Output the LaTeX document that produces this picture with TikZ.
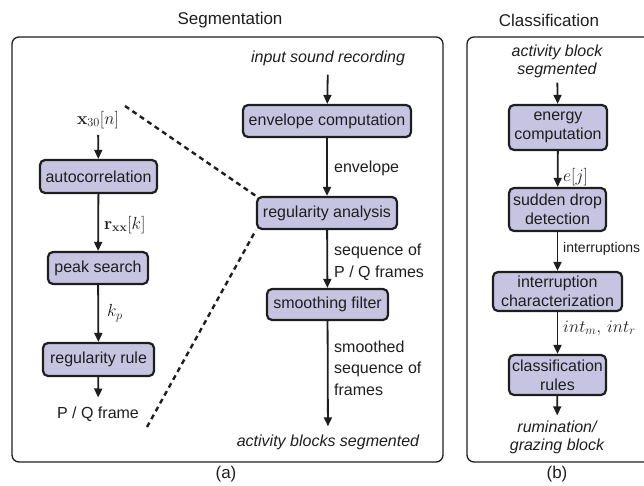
\documentclass[tikz,border=0pt]{standalone}
\usepackage{fix-cm}
\usepackage[no-math]{fontspec}
\setmainfont{Liberation Sans}
\usetikzlibrary{arrows.meta}
\definecolor{boxfill}{RGB}{199,196,226}
\definecolor{ink}{RGB}{30,30,30}

\begin{document}
\begin{tikzpicture}[x=1pt,y=-1pt,
  every node/.style={font=\fontsize{16}{19}\selectfont, text=ink},
  block/.style={draw=ink, line width=2.2pt, fill=boxfill, rounded corners=5pt,
                align=center, inner sep=0pt},
  arr/.style={draw=ink, line width=1.8pt, -{Triangle[length=9pt,width=8pt]}},
  lbl/.style={anchor=west, align=left, inner sep=0pt,
              font=\fontsize{16}{21.5}\selectfont},
  mlbl/.style={lbl, font=\fontsize{17.5}{21}\selectfont},
  note/.style={align=center, inner sep=0pt, font=\fontsize{16}{18}\selectfont\itshape},
  panel/.style={draw=ink, line width=1.3pt, rounded corners=7pt},
  link/.style={draw=ink, line width=2.4pt, dash pattern=on 5pt off 4pt},
  title/.style={font=\fontsize{17}{20}\selectfont}]

\useasboundingbox (0,0) rectangle (644,486);

% panel frames and captions (the classification frame runs past the right edge)
\draw[panel] (12,37) rectangle (443,462);
\begin{scope}
  \clip (0,0) rectangle (644,486);
  \draw[panel] (467,37) rectangle (655,462);
\end{scope}
\node[title] (segT) at (230,20) {Segmentation};
\node[title] (clsT) at (549,20) {Classification};
\node[title] (capA) at (226,474) {(a)};
\node[title] (capB) at (557,474) {(b)};

% segmentation: main chain
\node[note] (input) at (328,58) {input sound recording};
\node[block, minimum width=168pt, minimum height=32pt] (env) at (327,121) {envelope computation};
\node[block, minimum width=140pt, minimum height=32pt] (reg) at (327,213) {regularity analysis};
\node[block, minimum width=121pt, minimum height=31pt] (smooth) at (327.5,304.5) {smoothing filter};
\node[note] (blocks) at (328,442) {activity blocks segmented};

\draw[arr, shorten <=9pt] (input) -- (env);
\draw[arr] (env) -- (reg);
\draw[arr] (reg) -- (smooth);
\draw[arr, shorten >=8pt] (smooth) -- (blocks);

\node[lbl] (lenv) at (334,168) {envelope};
\node[lbl] (lseq) at (334,262) {sequence of\\P / Q frames};
\node[lbl] (lsm) at (334,368) {smoothed\\sequence of\\frames};

% segmentation: detail of the regularity analysis
\node[inner sep=0pt, font=\fontsize{17.5}{21}\selectfont] (xin) at (98,120) {$\mathbf{x}_{30}[n]$};
\node[block, minimum width=117pt, minimum height=33pt] (auto) at (98.5,176.5) {autocorrelation};
\node[block, minimum width=100pt, minimum height=32pt] (peak) at (98,268) {peak search};
\node[block, minimum width=111pt, minimum height=33pt] (rule) at (98.5,359.5) {regularity rule};
\node[inner sep=0pt] (pq) at (98,414) {P / Q frame};

\draw[arr, shorten <=6pt] (xin) -- (auto);
\draw[arr] (auto) -- (peak);
\draw[arr] (peak) -- (rule);
\draw[arr, shorten >=9pt] (rule) -- (pq);

\node[mlbl] (lrxx) at (104,225) {$\mathbf{r}_{\mathbf{xx}}[k]$};
\node[mlbl] (lkp) at (107,313) {$k_p$};

% zoom lines from the detail to the regularity analysis block
\coordinate (zt) at (125,106);
\coordinate (zb) at (147,427);
\draw[link] (zt) -- (reg.north west);
\draw[link] (zb) -- (reg.south west);

% classification chain
\node[note] (actblk) at (557,61) {activity block\\segmented};
\node[block, minimum width=98pt, minimum height=45pt] (energy) at (558,127.5) {energy\\computation};
\node[block, minimum width=97pt, minimum height=43pt] (drop) at (557.5,209.5) {sudden drop\\detection};
\node[block, minimum width=129pt, minimum height=39pt] (inter) at (557.5,291.5) {interruption\\characterization};
\node[block, minimum width=97pt, minimum height=40pt] (crules) at (557.5,375) {classification\\rules};
\node[note] (out) at (557,437) {rumination/\\grazing block};

\draw[arr, shorten <=5pt] (actblk) -- (energy);
\draw[arr] (energy) -- (drop);
\draw[arr] (drop) -- (inter);
\draw[arr] (inter) -- (crules);
\draw[arr, shorten >=5pt] (crules) -- (out);

\node[mlbl] (lej) at (563,177) {$e[j]$};
\node[lbl, font=\fontsize{14}{17}\selectfont] (lint) at (563,249) {interruptions};
\node[mlbl] (limr) at (563,328) {$int_m,\, int_r$};

\end{tikzpicture}
\end{document}
